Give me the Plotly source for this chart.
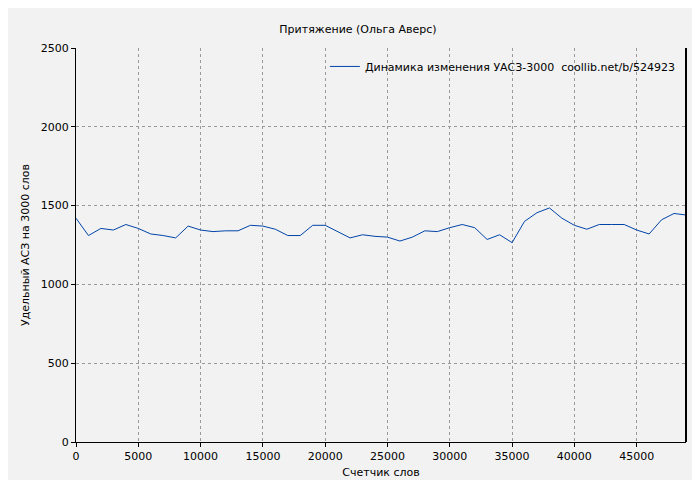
import plotly.graph_objects as go

words = list(range(0, 50000, 1000))
values = [1420,1310,1355,1345,1380,1355,1320,1310,1295,1370,1345,1335,1340,1340,1375,1370,1350,1310,1310,1375,
          1375,1335,1295,1315,1305,1300,1275,1300,1340,1335,1360,1380,1360,1285,1315,1265,1400,1455,1485,1420,
          1375,1350,1380,1380,1380,1345,1320,1410,1450,1440]
x_ticks = list(range(0, 50000, 5000))
y_ticks = list(range(0, 2501, 500))
legend_name = "Динамика изменения УАСЗ-3000  coollib.net/b/524923"

fig = go.Figure(go.Scatter(x=words, y=values, mode="lines", name=legend_name,
                           line=dict(color="#0044aa", width=1)))
axis = dict(showgrid=True, gridcolor="#999999", griddash="dot", gridwidth=1, zeroline=False,
            showline=True, linecolor="black", linewidth=1, ticks="outside", ticklen=4,
            tickcolor="black", automargin=False, tickfont=dict(size=11, color="black"))
fig.update_layout(
    width=700, height=480, paper_bgcolor="#f2f2f2", plot_bgcolor="#f2f2f2",
    font=dict(family="DejaVu Sans", size=11, color="black"),
    title=dict(text="Притяжение (Ольга Аверс)", x=0.5, y=0.965, xanchor="center", font=dict(size=11)),
    margin=dict(l=68, r=22, t=40, b=46, autoexpand=False),
    showlegend=True,
    legend=dict(x=0.99, y=0.99, xanchor="right", yanchor="top", bgcolor="rgba(0,0,0,0)",
                font=dict(size=11)),
    xaxis=dict(axis, range=[0, 48960], tickvals=x_ticks, ticktext=[str(v) for v in x_ticks],
               title=dict(text="Счетчик слов", font=dict(size=11), standoff=6)),
    yaxis=dict(axis, range=[0, 2500], tickvals=y_ticks, ticktext=[str(v) for v in y_ticks],
               title=dict(text="Удельный АСЗ на 3000 слов", font=dict(size=11), standoff=8)),
)
fig.add_shape(type="line", xref="paper", yref="paper", x0=1, x1=1, y0=0, y1=1,
              line=dict(color="black", width=2))
fig.write_html("out.html")
